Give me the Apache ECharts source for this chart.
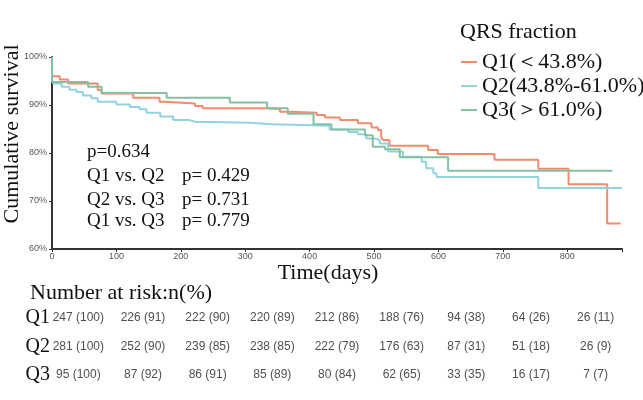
<!DOCTYPE html>
<html>
<head>
<meta charset="utf-8">
<script src="https://cdn.jsdelivr.net/npm/echarts@6/dist/echarts.min.js"></script>
<style>
  html, body { margin: 0; padding: 0; background: #fff; }
  #main { width: 643px; height: 400px; }
</style>
</head>
<body>
<div id="main"></div>
<script>
// KM step data (day, cumulative survival %)
const q1Days = [0, 0, 12, 25, 71, 77, 126, 167, 175, 222, 234, 333, 354, 369, 411, 424, 447, 475, 496, 506, 511, 514, 524, 584, 599, 687, 755, 802, 862, 883];
const q1Surv = [100, 96.0, 95.3, 94.5, 93.1, 92.4, 91.5, 90.7, 90.3, 89.8, 89.3, 89.1, 88.6, 88.4, 87.9, 87.4, 86.9, 86.2, 85.3, 84.8, 83.4, 82.7, 81.5, 80.6, 79.8, 78.6, 76.7, 73.5, 65.3, 65.3];

const q2Days = [0, 0, 2, 15, 27, 38, 48, 61, 71, 100, 121, 136, 147, 168, 188, 212, 222, 307, 343, 431, 460, 475, 488, 501, 509, 522, 545, 574, 581, 592, 597, 755, 885];
const q2Surv = [100, 95.3, 94.5, 93.8, 93.2, 92.7, 92.0, 91.4, 90.7, 90.1, 89.6, 89.1, 88.4, 87.6, 86.9, 86.5, 86.3, 86.0, 85.7, 84.9, 84.4, 83.9, 83.0, 82.7, 82.0, 80.3, 79.2, 78.2, 76.8, 75.8, 75.0, 72.7, 72.7];

const q3Days = [0, 0, 56, 77, 178, 276, 334, 366, 406, 434, 486, 498, 517, 540, 615, 870];
const q3Surv = [100, 94.8, 93.8, 92.5, 91.5, 90.5, 89.3, 88.2, 86.0, 84.9, 83.7, 81.3, 80.8, 79.1, 76.3, 76.3];

const seriesNames = ['Q1(\uFF1C43.8%)', 'Q2(43.8%-61.0%)', 'Q3(\uFF1E61.0%)'];
const seriesColors = ['#F28B6C', '#93D2E3', '#82C1A2'];

// p-value annotations
const pLines = ['p=0.634', 'Q1 vs. Q2', 'Q2 vs. Q3', 'Q1 vs. Q3'];
const pValues = ['', 'p= 0.429', 'p= 0.731', 'p= 0.779'];

// number at risk table
const riskTimes = ['0', '100', '200', '300', '400', '500', '600', '700', '800'];
const riskGroups = ['Q1', 'Q2', 'Q3'];
const q1N = [247, 226, 222, 220, 212, 188, 94, 64, 26];
const q1P = [100, 91, 90, 89, 86, 76, 38, 26, 11];
const q2N = [281, 252, 239, 238, 222, 176, 87, 51, 26];
const q2P = [100, 90, 85, 85, 79, 63, 31, 18, 9];
const q3N = [95, 87, 86, 85, 80, 62, 33, 16, 7];
const q3P = [100, 92, 91, 89, 84, 65, 35, 17, 7];

const SERIF = '"Liberation Serif", "Times New Roman", serif';
const SANS = '"Liberation Sans", Arial, sans-serif';
const INK = '#111';

const zip = (xs, ys) => xs.map((x, i) => [x, ys[i]]);

const tableData = [];
[[q1N, q1P], [q2N, q2P], [q3N, q3P]].forEach(([ns, ps], row) => {
  ns.forEach((n, col) => tableData.push([col, row, n + ' (' + ps[col] + ')']));
});

const chart = echarts.init(document.getElementById('main'));

const option = {
  animation: false,
  title: {
    text: 'QRS fraction',
    left: 455,
    top: 15,
    textStyle: { fontFamily: SERIF, fontSize: 22, fontWeight: 'normal', color: INK, lineHeight: 24 }
  },
  legend: {
    orient: 'vertical',
    left: 456,
    top: 45,
    itemGap: 0,
    itemWidth: 16,
    itemHeight: 2,
    icon: 'rect',
    data: seriesNames,
    textStyle: { fontFamily: SERIF, fontSize: 22, color: INK, lineHeight: 24 }
  },
  grid: [
    { left: 52, right: 21, top: 57, bottom: 151 },
    { left: 46, top: 304, width: 582, height: 85 }
  ],
  xAxis: [
    {
      type: 'value', gridIndex: 0, min: 0, max: 885, interval: 100,
      name: 'Time(days)', nameLocation: 'middle', nameGap: 12,
      nameTextStyle: { fontFamily: SERIF, fontSize: 22, color: INK, padding: [0, 18, 0, 0] },
      axisLine: { lineStyle: { color: '#333', width: 2 } },
      axisTick: { length: 3, lineStyle: { color: '#333' } },
      axisLabel: {
        fontFamily: SANS, fontSize: 9, color: '#555', margin: 3,
        formatter: v => (v % 100 === 0 ? String(v) : '')
      },
      splitLine: { show: false }
    },
    {
      type: 'category', gridIndex: 1, data: riskTimes,
      axisLine: { show: false }, axisTick: { show: false }, axisLabel: { show: false }
    }
  ],
  yAxis: [
    {
      type: 'value', gridIndex: 0, min: 60, max: 100, interval: 10,
      axisLine: { show: true, lineStyle: { color: '#333', width: 2 } },
      axisTick: { show: true, length: 3, lineStyle: { color: '#333' } },
      axisLabel: { fontFamily: SANS, fontSize: 9, color: '#555', margin: 5, formatter: '{value}%' },
      splitLine: { show: false }
    },
    {
      type: 'category', gridIndex: 1, data: riskGroups, inverse: true,
      axisLine: { show: false }, axisTick: { show: false },
      axisLabel: { fontFamily: SERIF, fontSize: 20, color: INK, margin: -4 }
    }
  ],
  series: [
    { name: seriesNames[0], type: 'line', step: 'end', showSymbol: false, data: zip(q1Days, q1Surv),
      lineStyle: { color: seriesColors[0], width: 2 }, itemStyle: { color: seriesColors[0] } },
    { name: seriesNames[1], type: 'line', step: 'end', showSymbol: false, data: zip(q2Days, q2Surv),
      lineStyle: { color: seriesColors[1], width: 2 }, itemStyle: { color: seriesColors[1] } },
    { name: seriesNames[2], type: 'line', step: 'end', showSymbol: false, data: zip(q3Days, q3Surv),
      lineStyle: { color: seriesColors[2], width: 2 }, itemStyle: { color: seriesColors[2] } },
    {
      type: 'scatter', xAxisIndex: 1, yAxisIndex: 1, symbolSize: 1,
      itemStyle: { color: 'transparent' },
      label: {
        show: true, position: 'inside', fontFamily: SANS, fontSize: 12, color: '#222',
        formatter: p => p.value[2]
      },
      data: tableData
    }
  ],
  graphic: [
    {
      type: 'text', x: 12, y: 134, rotation: Math.PI / 2,
      style: { text: 'Cumulative survival', font: '22px ' + SERIF, fill: INK, textAlign: 'center', textVerticalAlign: 'middle' }
    },
    {
      type: 'text', left: 30, top: 282,
      style: { text: 'Number at risk:n(%)', font: '22px ' + SERIF, fill: INK }
    },
    ...pLines.map((t, i) => ({
      type: 'text', x: 87, y: [152, 176, 200, 221][i],
      style: { text: t, font: '19px ' + SERIF, fill: INK, textVerticalAlign: 'middle' }
    })),
    ...pValues.filter(t => t).map((t, i) => ({
      type: 'text', x: 182, y: [176, 200, 221][i],
      style: { text: t, font: '19px ' + SERIF, fill: INK, textVerticalAlign: 'middle' }
    }))
  ]
};

chart.setOption(option);
</script>
</body>
</html>
